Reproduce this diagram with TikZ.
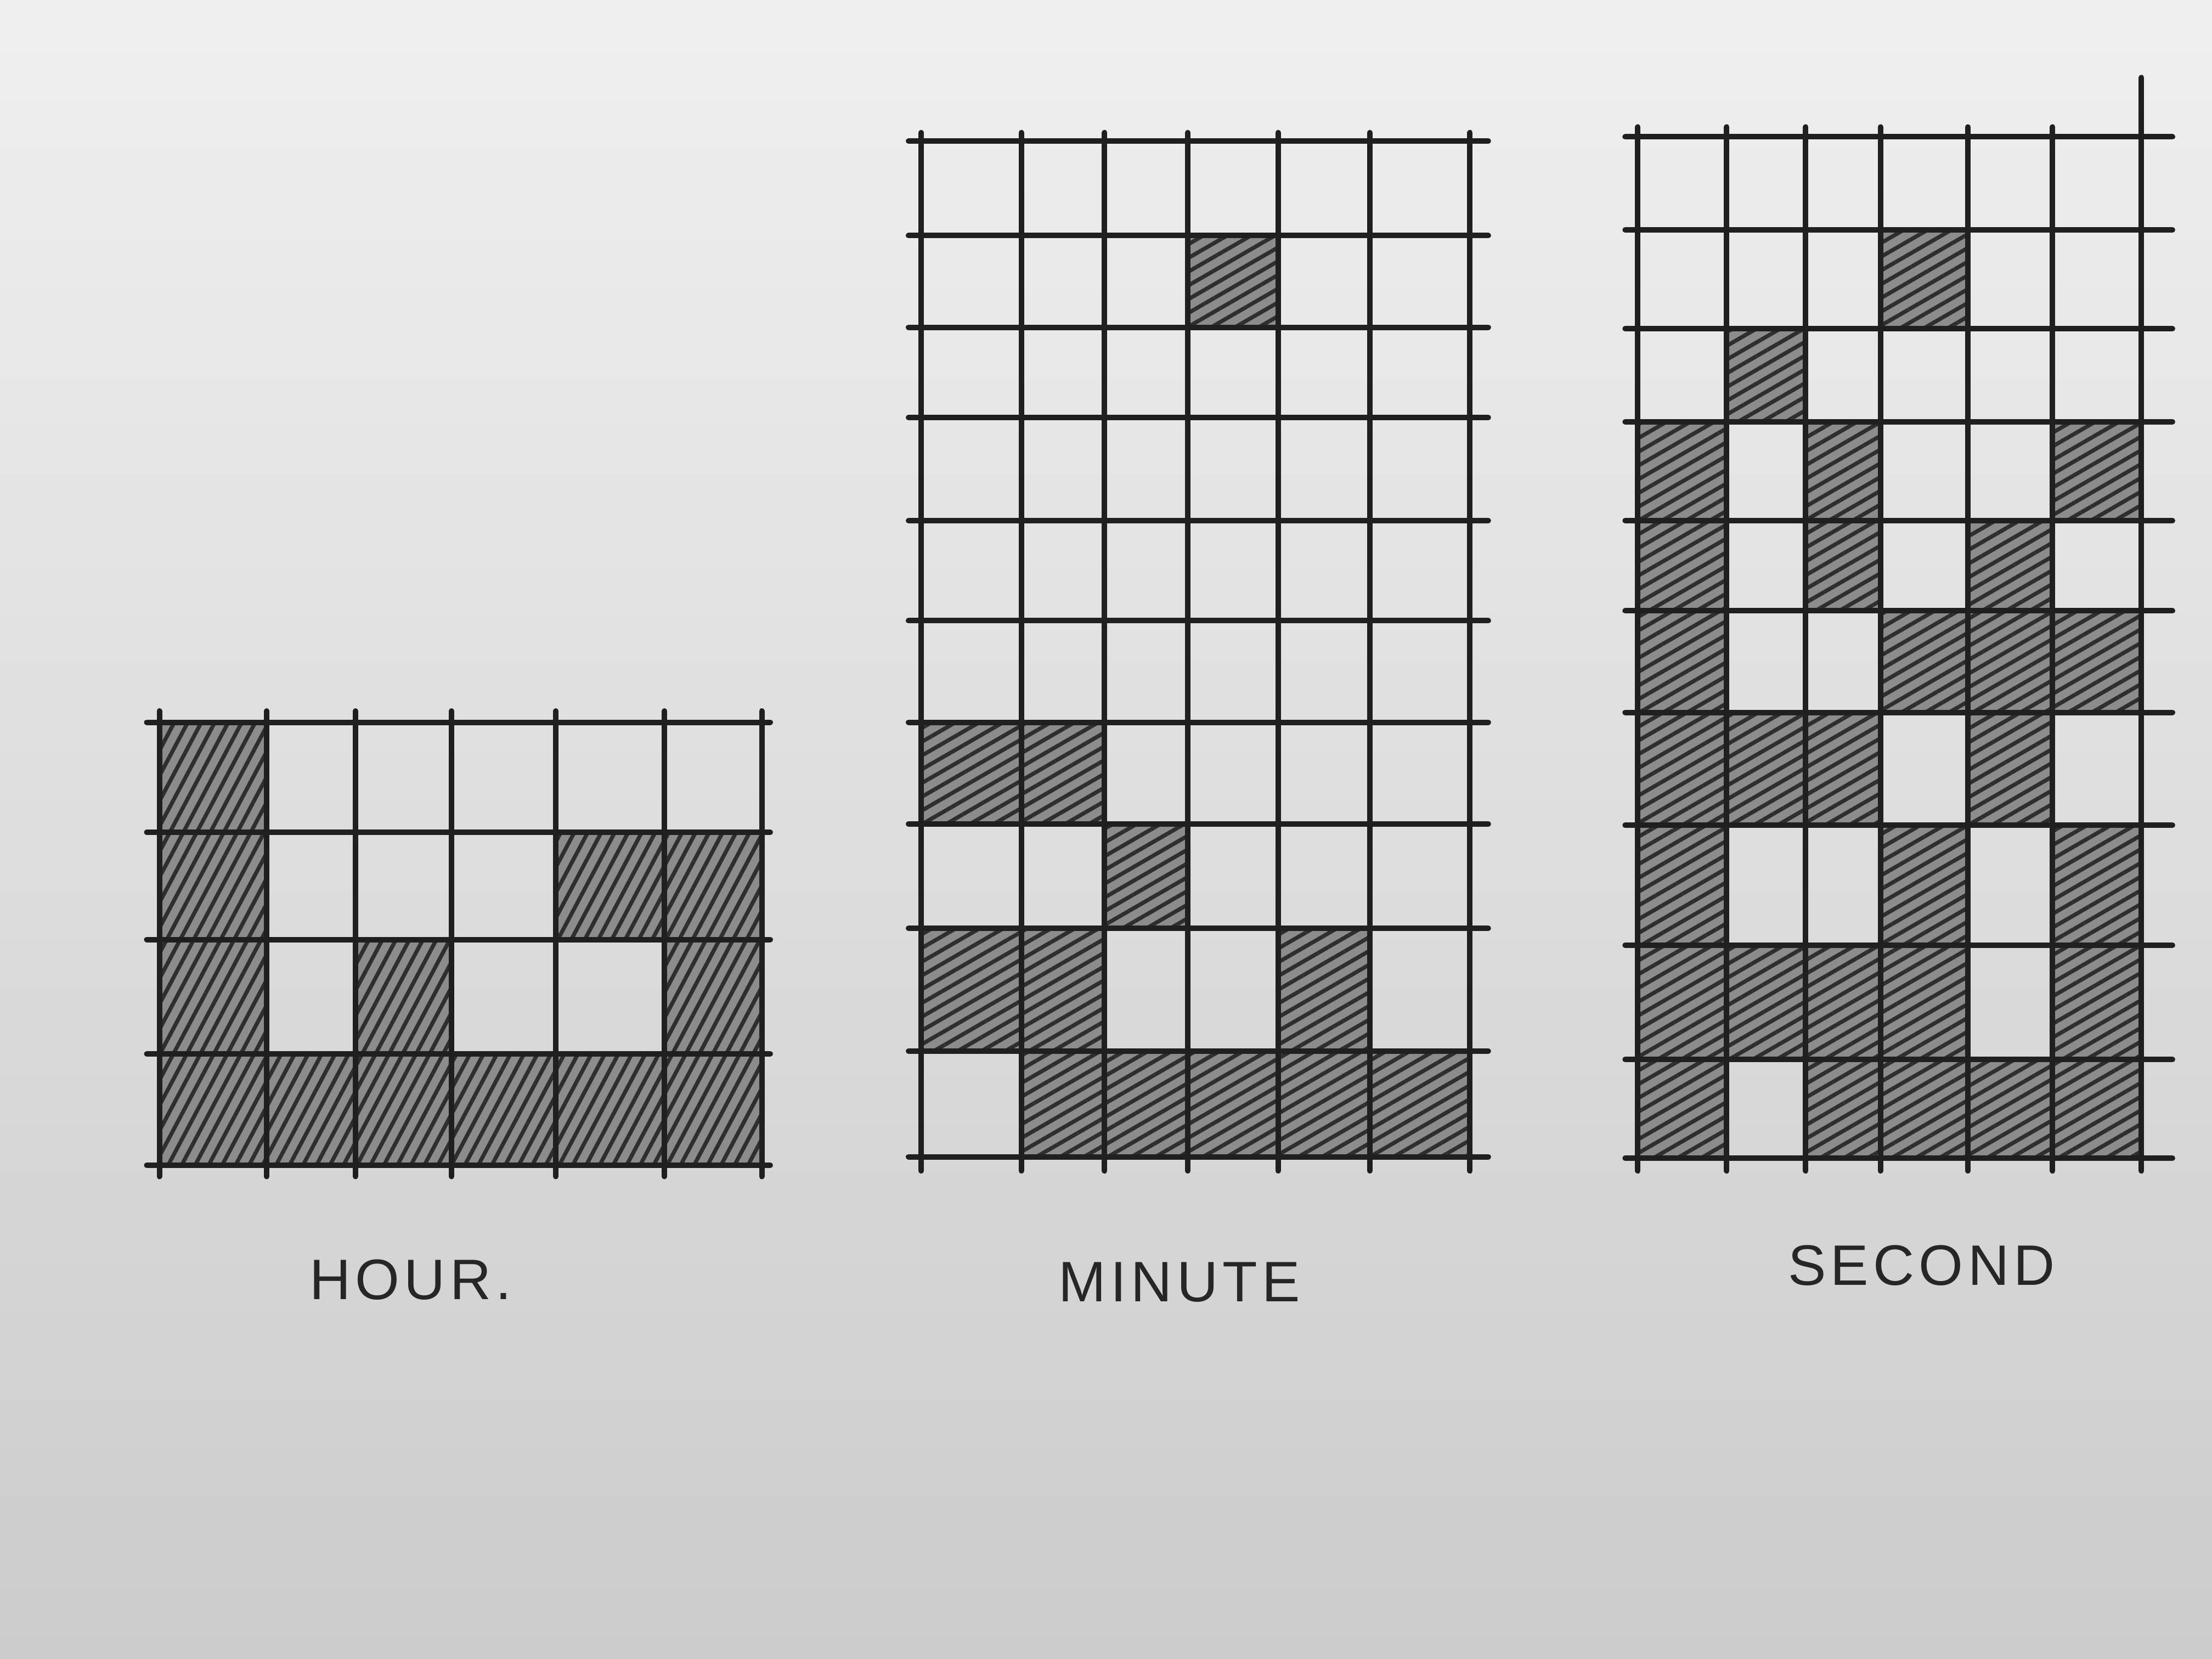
\documentclass[tikz,border=0pt]{standalone}
\usepackage{fontspec}
\usepackage{tikz}
\usetikzlibrary{patterns.meta}
\newfontfamily\penfont[LetterSpace=8]{Liberation Sans}
\def\hourx{{113,189,252,320,394,471,540}}
\def\houry{{512,590,666,747,826}}
\def\minx{{653,724,783,842,906,971,1042}}
\def\miny{{100,167,232,296,369,440,512,584,658,745,820}}
\def\secx{{1161,1224,1280,1333,1395,1455,1518}}
\def\secy{{97,163,233,299,369,433,505,585,670,751,821}}

\begin{document}
\begin{tikzpicture}[x=0.01cm, y=-0.01cm,
  pen/.style={line width=1.1pt, black!88, line cap=round},
  hatchsteep/.style={fill=black!45, postaction={pattern={Lines[angle=62,distance=2.4pt,line width=.8pt]}, pattern color=black!82}},
  hatchflat/.style={fill=black!45, postaction={pattern={Lines[angle=30,distance=2.4pt,line width=.8pt]}, pattern color=black!82}},
  lbl/.style={font=\penfont\fontsize{11.5}{14}\selectfont, text=black!85}]
  % paper
  \shade[top color=black!6, bottom color=black!20] (0,0) rectangle (1568,1176);
  \useasboundingbox (0,0) rectangle (1568,1176);
  % Hour grid
  \foreach \c/\r in {1/1,1/2,5/2,6/2,1/3,3/3,6/3,1/4,2/4,3/4,4/4,5/4,6/4}{
    \pgfmathsetmacro\xa{\hourx[\c-1]}
    \pgfmathsetmacro\xb{\hourx[\c]}
    \pgfmathsetmacro\ya{\houry[\r-1]}
    \pgfmathsetmacro\yb{\houry[\r]}
    \fill[hatchsteep] (\xa,\ya) rectangle (\xb,\yb);
  }
  \foreach \x in {113,189,252,320,394,471,540} \draw[pen] (\x,504) -- (\x,834);
  \foreach \y in {512,590,666,747,826} \draw[pen] (104,\y) -- (546,\y);
  \node[lbl] (hour) at (291,907) {HOUR.};
  % Minute grid
  \foreach \c/\r in {4/2,1/7,2/7,3/8,1/9,2/9,5/9,2/10,3/10,4/10,5/10,6/10}{
    \pgfmathsetmacro\xa{\minx[\c-1]}
    \pgfmathsetmacro\xb{\minx[\c]}
    \pgfmathsetmacro\ya{\miny[\r-1]}
    \pgfmathsetmacro\yb{\miny[\r]}
    \fill[hatchflat] (\xa,\ya) rectangle (\xb,\yb);
  }
  \foreach \x in {653,724,783,842,906,971,1042} \draw[pen] (\x,94) -- (\x,830);
  \foreach \y in {100,167,232,296,369,440,512,584,658,745,820} \draw[pen] (644,\y) -- (1055,\y);
  \node[lbl] (minute) at (836,909) {MINUTE};
  % Second grid
  \foreach \c/\r in {4/2,2/3,1/4,3/4,6/4,1/5,3/5,5/5,1/6,4/6,5/6,6/6,1/7,2/7,3/7,5/7,
                     1/8,4/8,6/8,1/9,2/9,3/9,4/9,6/9,1/10,3/10,4/10,5/10,6/10}{
    \pgfmathsetmacro\xa{\secx[\c-1]}
    \pgfmathsetmacro\xb{\secx[\c]}
    \pgfmathsetmacro\ya{\secy[\r-1]}
    \pgfmathsetmacro\yb{\secy[\r]}
    \fill[hatchflat] (\xa,\ya) rectangle (\xb,\yb);
  }
  \foreach \x in {1161,1224,1280,1333,1395,1455} \draw[pen] (\x,90) -- (\x,830);
  \draw[pen] (1518,55) -- (1518,830);
  \foreach \y in {97,163,233,299,369,433,505,585,670,751,821} \draw[pen] (1152,\y) -- (1540,\y);
  \node[lbl] (second) at (1362,897) {SECOND};
\end{tikzpicture}
\end{document}
